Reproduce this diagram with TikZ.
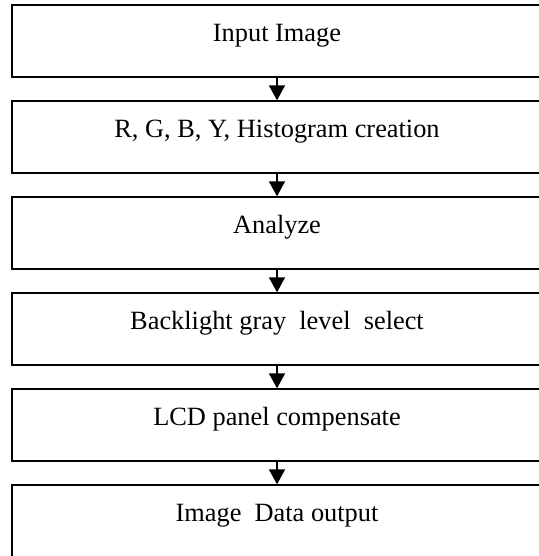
\documentclass[tikz,border=0pt]{standalone}
\usepackage{fontspec}
\setmainfont{Liberation Serif}
\usepackage{tikz}
\usetikzlibrary{arrows.meta}

\begin{document}
\begin{tikzpicture}[
  stage/.style={
    rectangle,
    draw=black,
    line width=1.1pt,
    minimum width=10.6cm,
    minimum height=1.44cm,
    text height=10pt,
    text depth=10pt,
    align=center,
    font=\fontsize{15}{18}\selectfont
  },
  arr/.style={-{Triangle[length=0.3cm, width=0.32cm]}, line width=0.9pt}
]

% ===================== frame (picture is cut at right and bottom) =====================
\path[use as bounding box, clip] (0, 0) rectangle (10.78, -11.12);

% ===================== stages =====================
\node[stage] (input)   at (5.54, -0.826)  {Input Image};
\node[stage] (hist)    at (5.54, -2.746)  {R, G, B, Y, Histogram creation};
\node[stage] (analyze) at (5.54, -4.666)  {Analyze};
\node[stage] (select)  at (5.54, -6.586)  {Backlight gray\ \ level\ \ select};
\node[stage] (comp)    at (5.54, -8.506)  {LCD panel compensate};
\node[stage] (output)  at (5.54, -10.426) {Image\ \ Data output};

% ===================== arrows =====================
\draw[arr] (input)   -- (hist);
\draw[arr] (hist)    -- (analyze);
\draw[arr] (analyze) -- (select);
\draw[arr] (select)  -- (comp);
\draw[arr] (comp)    -- (output);

\end{tikzpicture}
\end{document}
